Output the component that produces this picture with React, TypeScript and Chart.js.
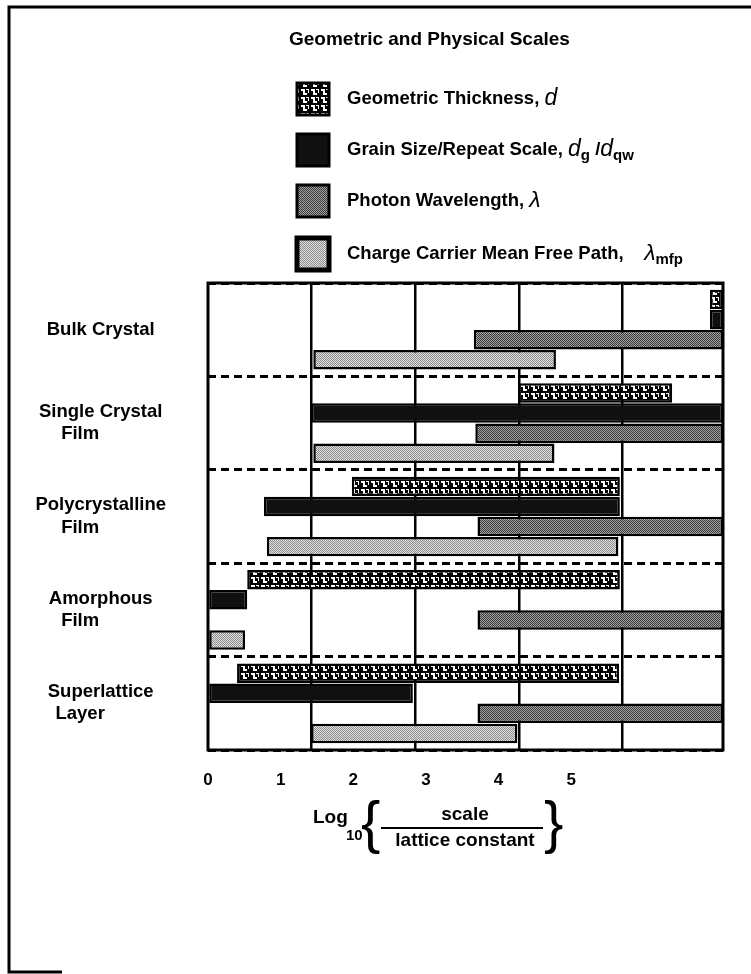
import React, { useEffect, useRef } from 'react';
import { Chart, registerables } from 'chart.js';

Chart.register(...registerables);

// ---------- data ----------
const categories: string[][] = [
  ['Bulk Crystal'],
  ['Single Crystal', 'Film'],
  ['Polycrystalline', 'Film'],
  ['Amorphous', 'Film'],
  ['Superlattice', 'Layer'],
];

const seriesNames = [
  'Geometric Thickness',
  'Grain Size/Repeat Scale',
  'Photon Wavelength',
  'Charge Carrier Mean Free Path',
];

// floating bars: [start, end] in log10(scale / lattice constant)
const thickness: number[][] = [[6.91, 7.09], [4.27, 6.39], [1.98, 5.67], [0.54, 5.67], [0.4, 5.66]];
const grainSize: number[][] = [[6.91, 7.09], [1.42, 7.09], [0.77, 5.67], [0, 0.54], [0, 2.82]];
const photonWavelength: number[][] = [[3.66, 7.09], [3.68, 7.09], [3.71, 7.09], [3.71, 7.09], [3.71, 7.09]];
const meanFreePath: number[][] = [[1.45, 4.79], [1.45, 4.77], [0.81, 5.65], [0, 0.51], [1.42, 4.26]];

const xMin = 0;
const xMax = 7.09;
const tickValues = [0, 1, 2, 3, 4, 5];
const gridValues = [1.42, 2.85, 4.28, 5.7];

const FONT = '"Liberation Sans", Arial, Helvetica, sans-serif';

function makePattern(w: number, h: number, draw: (c: CanvasRenderingContext2D) => void): CanvasPattern | string {
  const cv = document.createElement('canvas');
  cv.width = w;
  cv.height = h;
  const c = cv.getContext('2d');
  if (!c) return '#000';
  draw(c);
  const ctx2 = document.createElement('canvas').getContext('2d');
  const p = ctx2 ? ctx2.createPattern(cv, 'repeat') : null;
  return p || '#000';
}

export default function App() {
  const ref = useRef<HTMLCanvasElement | null>(null);

  useEffect(() => {
    const canvas = ref.current;
    if (!canvas) return;

    const patD = makePattern(10, 8, (c) => {
      c.fillStyle = '#000';
      c.fillRect(0, 0, 10, 8);
      c.fillStyle = '#fff';
      c.fillRect(1, 1, 4, 2);
      c.fillRect(3, 3, 2, 2);
      c.fillRect(3, 5, 4, 2);
      c.fillRect(6, 1, 3, 1);
      c.fillRect(8, 2, 1, 3);
    });
    const patGrain = '#101010';
    const patPhoton = makePattern(2, 2, (c) => {
      c.fillStyle = '#a4a4a4';
      c.fillRect(0, 0, 2, 2);
      c.fillStyle = '#383838';
      c.fillRect(0, 0, 1, 1);
      c.fillRect(1, 1, 1, 1);
    });
    const patMfp = makePattern(2, 2, (c) => {
      c.fillStyle = '#e2e2e2';
      c.fillRect(0, 0, 2, 2);
      c.fillStyle = '#8a8a8a';
      c.fillRect(0, 0, 1, 1);
      c.fillRect(1, 1, 1, 1);
    });
    const fills = [patD, patGrain, patPhoton, patMfp];

    const decorPlugin = {
      id: 'decor',
      beforeDraw(chart: any) {
        const c = chart.ctx as CanvasRenderingContext2D;
        c.save();
        c.fillStyle = '#fff';
        c.fillRect(0, 0, chart.width, chart.height);
        c.restore();
      },
      afterDatasetsDraw(chart: any) {
        const c = chart.ctx as CanvasRenderingContext2D;
        const a = chart.chartArea;
        c.save();
        c.strokeStyle = '#000';
        c.lineWidth = 3;
        c.strokeRect(a.left, a.top, a.right - a.left, a.bottom - a.top);
        c.restore();
      },
      afterDraw(chart: any) {
        const c = chart.ctx as CanvasRenderingContext2D;
        c.save();
        c.fillStyle = '#000';
        c.strokeStyle = '#000';

        // page frame
        c.lineWidth = 3;
        c.beginPath();
        c.moveTo(751, 7);
        c.lineTo(9, 7);
        c.lineTo(9, 972);
        c.lineTo(62, 972);
        c.stroke();

        // title
        c.textBaseline = 'middle';
        c.textAlign = 'left';
        c.font = `bold 19px ${FONT}`;
        c.fillText('Geometric and Physical Scales', 289, 40);

        // legend
        type Part = { t: string; it?: boolean; sub?: boolean };
        const items: { y: number; parts: Part[] }[] = [
          { y: 99, parts: [{ t: seriesNames[0] + ', ' }, { t: 'd', it: true }] },
          {
            y: 150,
            parts: [
              { t: seriesNames[1] + ', ' },
              { t: 'd', it: true },
              { t: 'g', sub: true },
              { t: ' /' },
              { t: 'd', it: true },
              { t: 'qw', sub: true },
            ],
          },
          { y: 201, parts: [{ t: seriesNames[2] + ', ' }, { t: 'λ', it: true }] },
          { y: 254, parts: [{ t: seriesNames[3] + ',    ' }, { t: 'λ', it: true }, { t: 'mfp', sub: true }] },
        ];
        items.forEach((item, i) => {
          const bx = 297;
          const bs = 32;
          c.fillStyle = fills[i] as any;
          c.fillRect(bx, item.y - bs / 2, bs, bs);
          c.lineWidth = i === 3 ? 5 : 3;
          c.strokeRect(bx, item.y - bs / 2, bs, bs);
          c.fillStyle = '#000';
          let x = 347;
          item.parts.forEach((p) => {
            let yy = item.y;
            if (p.it) c.font = `italic 23px ${FONT}`;
            else if (p.sub) {
              c.font = `bold 15px ${FONT}`;
              yy += 6;
            } else c.font = `bold 18.5px ${FONT}`;
            c.fillText(p.t, x, yy);
            x += c.measureText(p.t).width;
          });
        });

        // x axis title
        c.font = `bold 19px ${FONT}`;
        c.textAlign = 'left';
        c.fillText('Log', 313, 818);
        c.font = `bold 15px ${FONT}`;
        c.fillText('10', 346, 836);
        c.font = `58px ${FONT}`;
        c.fillText('{', 361, 826);
        c.fillText('}', 544, 826);
        c.font = `bold 19px ${FONT}`;
        c.textAlign = 'center';
        c.fillText('scale', 465, 815);
        c.fillText('lattice constant', 465, 841);
        c.lineWidth = 2;
        c.beginPath();
        c.moveTo(381, 828);
        c.lineTo(543, 828);
        c.stroke();
        c.restore();
      },
    };

    const datasetsData = [thickness, grainSize, photonWavelength, meanFreePath];

    const chart = new Chart(canvas, {
      type: 'bar',
      data: {
        labels: categories as any,
        datasets: datasetsData.map((d, i) => ({
          label: seriesNames[i],
          data: d as any,
          backgroundColor: fills[i] as any,
          borderColor: '#000',
          borderWidth: 2.5,
          borderSkipped: false,
          categoryPercentage: 0.86,
          barPercentage: 0.97,
        })),
      },
      options: {
        indexAxis: 'y',
        animation: false,
        responsive: false,
        events: [],
        layout: { padding: { top: 283, left: 0, right: 28, bottom: 0 } },
        scales: {
          x: {
            type: 'linear',
            min: xMin,
            max: xMax,
            afterBuildTicks: (scale: any) => {
              scale.ticks = [...tickValues, ...gridValues]
                .sort((a, b) => a - b)
                .map((v) => ({ value: v }));
            },
            afterFit: (scale: any) => {
              scale.height = 224;
            },
            grid: {
              drawTicks: false,
              lineWidth: 2.5,
              color: (ctx: any) =>
                ctx.tick && gridValues.includes(ctx.tick.value) ? '#000' : 'rgba(0,0,0,0)',
            },
            border: { display: false },
            ticks: {
              autoSkip: false,
              maxRotation: 0,
              padding: 20,
              color: '#000',
              font: { family: FONT, size: 17, weight: 'bold' },
              callback: (value: any) => (tickValues.includes(value) ? String(value) : ''),
            },
          },
          y: {
            type: 'category',
            afterFit: (scale: any) => {
              scale.width = 208;
            },
            grid: { color: '#000', lineWidth: 3, drawTicks: false, offset: true },
            border: { display: false, dash: [8, 5] },
            ticks: {
              color: '#000',
              crossAlign: 'center',
              padding: 42,
              font: { family: FONT, size: 18.5, weight: 'bold' },
              callback: (_v: any, i: number) =>
                categories[i].map((l, j) => (j > 0 ? l + '        ' : l)),
            },
          },
        },
        plugins: {
          legend: { display: false },
          tooltip: { enabled: false },
          title: { display: false },
        },
      },
      plugins: [decorPlugin],
    });

    return () => {
      chart.destroy();
    };
  }, []);

  return (
    <div style={{ position: 'absolute', left: 0, top: 0, width: 751, height: 974, background: '#fff' }}>
      <canvas ref={ref} width={751} height={974} style={{ display: 'block', width: 751, height: 974 }} />
    </div>
  );
}
